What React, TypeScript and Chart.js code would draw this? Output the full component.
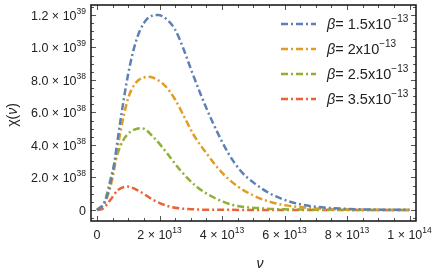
import React, { useEffect, useRef } from "react";
import { Chart, registerables } from "chart.js";

Chart.register(...registerables);

// ν in units of 1e13, χ in units of 1e38
const NU_UNIT = 1e13;
const CHI_UNIT = 1e38;

const blueNu = [0, 0.25, 0.5, 0.75, 1.0, 1.25, 1.5, 1.75, 1.95, 2.25, 2.5, 2.75, 3.0, 3.3, 3.7, 4.2, 4.6, 5.0, 5.5, 6.0, 6.5, 7.0, 8.0, 9.0, 10.0];
const blueChi = [0, 0.5, 2.3, 5.5, 8.4, 10.4, 11.5, 11.95, 12.0, 11.7, 11.1, 10.0, 8.7, 7.2, 5.4, 3.5, 2.4, 1.7, 1.05, 0.62, 0.35, 0.2, 0.07, 0.02, 0.01];

const orangeNu = [0, 0.25, 0.5, 0.75, 1.0, 1.25, 1.5, 1.67, 1.9, 2.2, 2.5, 2.8, 3.1, 3.5, 4.0, 4.5, 5.0, 5.5, 6.0, 7.0, 8.0, 10.0];
const orangeChi = [0, 0.45, 2.0, 4.8, 6.9, 7.85, 8.15, 8.2, 8.05, 7.6, 6.8, 5.7, 4.6, 3.5, 2.3, 1.45, 0.9, 0.52, 0.3, 0.1, 0.03, 0];

const greenNu = [0, 0.25, 0.47, 0.74, 0.95, 1.2, 1.43, 1.8, 2.24, 2.66, 3.2, 3.71, 4.35, 5.3, 6.0, 10.0];
const greenChi = [0, 0.55, 2.2, 3.9, 4.6, 4.95, 5.03, 4.5, 3.5, 2.46, 1.42, 0.8, 0.31, 0.1, 0.04, 0];

const redNu = [0, 0.2, 0.42, 0.67, 0.97, 1.38, 1.8, 2.34, 3.0, 4.0, 10.0];
const redChi = [0, 0.1, 0.6, 1.23, 1.44, 1.13, 0.62, 0.2, 0.05, 0.01, 0];

const seriesColors = ["#5E81B5", "#E19C24", "#8FB032", "#EB6235"];
const betaMantissas = ["1.5", "2", "2.5", "3.5"];
const betaExponent = "−13";

const xTickValues = [0, 2e13, 4e13, 6e13, 8e13, 1e14];
const xTickMantissas = ["0", "2", "4", "6", "8", "1"];
const xTickExps = ["", "13", "13", "13", "13", "14"];

const yTickValues = [0, 2e38, 4e38, 6e38, 8e38, 1e39, 1.2e39];
const yTickMantissas = ["0", "2.0", "4.0", "6.0", "8.0", "1.0", "1.2"];
const yTickExps = ["", "38", "38", "38", "38", "39", "39"];

const FONT = "'Liberation Sans', Arial, sans-serif";
const DASH = [7, 3, 2, 3];

function toPoints(nu: number[], chi: number[]) {
  return nu.map((v, i) => ({ x: v * NU_UNIT, y: chi[i] * CHI_UNIT }));
}

function drawSci(
  ctx: CanvasRenderingContext2D,
  mant: string,
  exp: string,
  x: number,
  y: number,
  align: "right" | "center" | "left",
  size: number,
  supSize: number
) {
  const main = exp ? `${mant} × 10` : mant;
  ctx.font = `${size}px ${FONT}`;
  const w1 = ctx.measureText(main).width;
  ctx.font = `${supSize}px ${FONT}`;
  const w2 = exp ? ctx.measureText(exp).width : 0;
  const total = w1 + w2;
  let sx = x;
  if (align === "right") sx = x - total;
  else if (align === "center") sx = x - total / 2;
  ctx.textAlign = "left";
  ctx.textBaseline = "middle";
  ctx.font = `${size}px ${FONT}`;
  ctx.fillText(main, sx, y);
  if (exp) {
    ctx.font = `${supSize}px ${FONT}`;
    ctx.fillText(exp, sx + w1, y - size * 0.42);
  }
}

const decor = {
  id: "decor",
  afterDraw(chart: any) {
    const { ctx, chartArea: a, scales } = chart;
    const xs = scales.x;
    const ys = scales.y;
    ctx.save();
    const seg = (x1: number, y1: number, x2: number, y2: number) => {
      ctx.beginPath();
      ctx.moveTo(x1, y1);
      ctx.lineTo(x2, y2);
      ctx.stroke();
    };
    // ticks
    ctx.strokeStyle = "#555";
    ctx.lineWidth = 1;
    ctx.setLineDash([]);
    for (let i = 0; i <= 20; i++) {
      const v = i * 0.5e13;
      const px = Math.round(xs.getPixelForValue(v)) + 0.5;
      const major = i % 4 === 0;
      const len = major ? 5 : 3;
      seg(px, a.bottom, px, a.bottom - len);
      seg(px, a.top, px, a.top + len);
    }
    for (let i = -1; i <= 25; i++) {
      const v = i * 0.5e38;
      const py = Math.round(ys.getPixelForValue(v)) + 0.5;
      if (py < a.top || py > a.bottom) continue;
      const major = i % 4 === 0;
      const len = major ? 5 : 3;
      seg(a.left, py, a.left + len, py);
      seg(a.right, py, a.right - len, py);
    }
    // frame
    ctx.strokeStyle = "#111";
    ctx.lineWidth = 1.5;
    ctx.strokeRect(a.left, a.top, a.right - a.left, a.bottom - a.top);

    // tick labels
    ctx.fillStyle = "#222";
    xTickValues.forEach((v, i) => {
      const px = xs.getPixelForValue(v);
      drawSci(ctx, xTickMantissas[i], xTickExps[i], px, a.bottom + 15, "center", 12.5, 8.5);
    });
    yTickValues.forEach((v, i) => {
      const py = ys.getPixelForValue(v);
      drawSci(ctx, yTickMantissas[i], yTickExps[i], a.left - 5, py + 1.5, "right", 12.5, 8.5);
    });

    // axis titles
    ctx.font = `italic 14px ${FONT}`;
    ctx.textAlign = "center";
    ctx.textBaseline = "middle";
    ctx.fillText("ν", 260, 264);
    ctx.save();
    ctx.translate(13, 115);
    ctx.rotate(-Math.PI / 2);
    const parts = [
      { t: "χ(", it: false },
      { t: "ν", it: true },
      { t: ")", it: false },
    ];
    let tw = 0;
    parts.forEach((p) => {
      ctx.font = `${p.it ? "italic " : ""}14px ${FONT}`;
      tw += ctx.measureText(p.t).width;
    });
    let cx = -tw / 2;
    ctx.textAlign = "left";
    parts.forEach((p) => {
      ctx.font = `${p.it ? "italic " : ""}14px ${FONT}`;
      ctx.fillText(p.t, cx, 0);
      cx += ctx.measureText(p.t).width;
    });
    ctx.restore();

    // legend
    const rowY = [24, 49, 74, 99];
    betaMantissas.forEach((m, i) => {
      const y = rowY[i];
      ctx.strokeStyle = seriesColors[i];
      ctx.lineWidth = 2.5;
      ctx.setLineDash(DASH);
      seg(281, y, 316, y);
      ctx.setLineDash([]);
      ctx.fillStyle = "#222";
      ctx.textAlign = "left";
      ctx.textBaseline = "middle";
      let tx = 327;
      ctx.font = `italic 14.5px ${FONT}`;
      ctx.fillText("β", tx, y + 1);
      tx += ctx.measureText("β").width;
      ctx.font = `14.5px ${FONT}`;
      const s = `= ${m}x10`;
      ctx.fillText(s, tx, y + 1);
      tx += ctx.measureText(s).width;
      ctx.font = `10px ${FONT}`;
      ctx.fillText(betaExponent, tx, y - 5);
    });
    ctx.restore();
  },
};

export default function App() {
  const ref = useRef<HTMLCanvasElement | null>(null);
  useEffect(() => {
    document.body.style.margin = "0";
    const canvas = ref.current;
    if (!canvas) return;
    const datasets = [
      toPoints(blueNu, blueChi),
      toPoints(orangeNu, orangeChi),
      toPoints(greenNu, greenChi),
      toPoints(redNu, redChi),
    ].map((data, i) => ({
      label: `β=${betaMantissas[i]}x10^-13`,
      data,
      borderColor: seriesColors[i],
      backgroundColor: seriesColors[i],
      borderWidth: 2.5,
      borderDash: DASH,
      pointRadius: 0,
      fill: false,
      cubicInterpolationMode: "monotone" as const,
      tension: 0.4,
    }));
    const chart = new Chart(canvas, {
      type: "line",
      data: { datasets },
      options: {
        animation: false,
        responsive: false,
        devicePixelRatio: 1,
        parsing: false as any,
        layout: { padding: { left: 91, right: 20, top: 5, bottom: 52 } },
        plugins: { legend: { display: false }, tooltip: { enabled: false } },
        scales: {
          x: { type: "linear", min: -1.92e12, max: 1.0208e14, display: false },
          y: { type: "linear", min: -0.677e38, max: 1.2615e39, display: false },
        },
      },
      plugins: [decor],
    });
    return () => chart.destroy();
  }, []);
  return (
    <div style={{ position: "absolute", left: 0, top: 0, width: 436, height: 273 }}>
      <canvas ref={ref} width={436} height={273} style={{ width: 436, height: 273 }} />
    </div>
  );
}
